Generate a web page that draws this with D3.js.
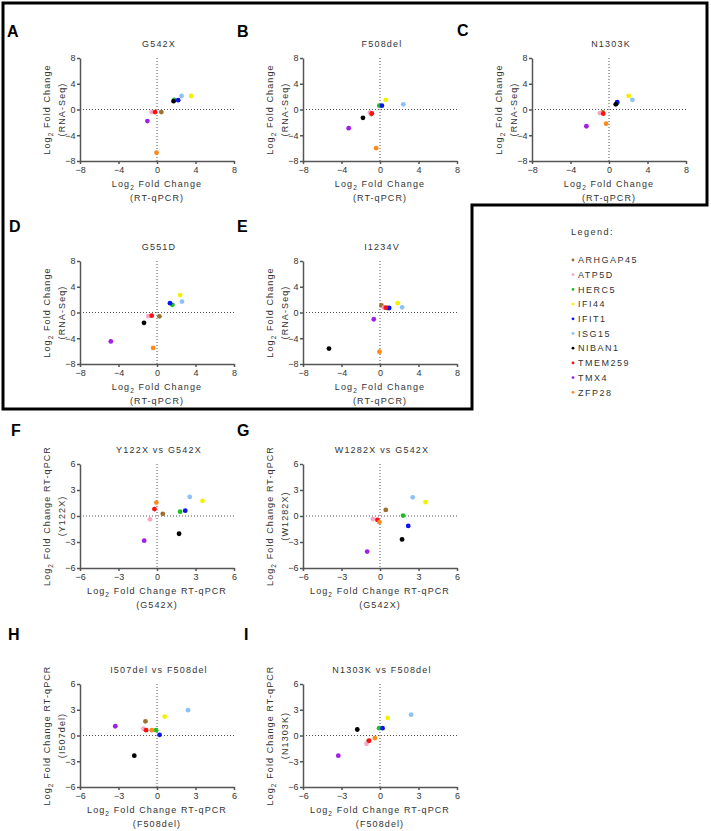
<!DOCTYPE html>
<html>
<head>
<meta charset="utf-8">
<script src="https://cdn.jsdelivr.net/npm/d3@7"></script>
<style>
  body { margin: 0; background: #fff; }
  text { font-family: "Liberation Sans", Arial, sans-serif; fill: #333; }
</style>
</head>
<body>
<svg id="fig" width="711" height="831"></svg>
<script>
// genes and their colours (legend order)
const genes = ["ARHGAP45", "ATP5D", "HERC5", "IFI44", "IFIT1", "ISG15", "NIBAN1", "TMEM259", "TMX4", "ZFP28"];
const geneColors = ["#a0702d", "#f7a6c8", "#1fbf1f", "#f2f200", "#0a14f0", "#8ec2f7", "#000000", "#ff1010", "#a020e8", "#ff8a1a"];

// log2 fold changes, one value per gene in the order above
const qpcrG542X   = [0.45, -0.55, 1.8, 3.55, 2.2, 2.55, 1.72, -0.2, -1.0, -0.05];
const rnaG542X    = [-0.4, -0.4, 1.5, 2.1, 1.45, 2.1, 1.3, -0.4, -1.8, -6.7];
const qpcrF508del = [-0.9, -1.05, -0.07, 0.6, 0.2, 2.42, -1.77, -0.85, -3.25, -0.4];
const rnaF508del  = [-0.7, -0.5, 0.6, 1.5, 0.6, 0.8, -1.3, -0.6, -2.9, -6.0];
const qpcrN1303K  = [-0.65, -0.95, 0.85, 2.05, 0.85, 2.43, 0.7, -0.6, -2.35, -0.3];
const rnaN1303K   = [-0.45, -0.55, 1.0, 2.1, 1.15, 1.5, 0.8, -0.65, -2.6, -2.2];
const qpcrG551D   = [0.25, -0.9, 1.6, 2.4, 1.35, 2.6, -1.35, -0.55, -4.8, -0.4];
const rnaG551D    = [-0.6, -0.55, 1.2, 2.7, 1.45, 1.7, -1.6, -0.5, -4.5, -5.5];
const qpcrI1234V  = [0.15, 0.4, 0.75, 1.85, 0.95, 2.3, -5.3, 0.6, -0.65, -0.05];
const rnaI1234V   = [1.1, 0.75, 0.7, 1.45, 0.7, 0.8, -5.6, 0.75, -1.05, -6.1];
const qpcrY122X   = [0.25, -0.38, 0.5, 1.75, 0.62, 2.2, -2.05, 0.8, -2.85, 1.55];
const qpcrW1282X  = [0.7, -0.35, 0.05, 1.6, -1.15, 2.15, -2.7, -0.45, -4.1, -0.7];
const qpcrI507del = [1.65, 0.8, 0.62, 2.2, 0.08, 2.95, -2.35, 0.62, 1.08, 0.62];

const ticks8 = [-8, -4, 0, 4, 8];
const ticks6 = [-6, -3, 0, 3, 6];

const svg = d3.select("#fig");

// outer frame around A-E
svg.append("path")
  .attr("d", "M3,3 H707 V205 H472 V409 H3 Z")
  .attr("fill", "none").attr("stroke", "#000").attr("stroke-width", 3);

const colX = [80, 303, 532];
const rows = [
  {top: 58, bottom: 161},
  {top: 261, bottom: 364},
  {top: 464, bottom: 568},
  {top: 684, bottom: 787}
];
const plotW = 154;

const panels = [
  {letter: "A", lx: 7, ly: 37, col: 0, row: 0, title: "G542X", xs: qpcrG542X, ys: rnaG542X, lim: 8, ticks: ticks8,
   xt: ["Log2 Fold Change", "(RT-qPCR)"], yt: ["Log2 Fold Change", "(RNA-Seq)"]},
  {letter: "B", lx: 237, ly: 37, col: 1, row: 0, title: "F508del", xs: qpcrF508del, ys: rnaF508del, lim: 8, ticks: ticks8,
   xt: ["Log2 Fold Change", "(RT-qPCR)"], yt: ["Log2 Fold Change", "(RNA-Seq)"]},
  {letter: "C", lx: 457, ly: 36, col: 2, row: 0, title: "N1303K", xs: qpcrN1303K, ys: rnaN1303K, lim: 8, ticks: ticks8,
   xt: ["Log2 Fold Change", "(RT-qPCR)"], yt: ["Log2 Fold Change", "(RNA-Seq)"]},
  {letter: "D", lx: 9, ly: 232, col: 0, row: 1, title: "G551D", xs: qpcrG551D, ys: rnaG551D, lim: 8, ticks: ticks8,
   xt: ["Log2 Fold Change", "(RT-qPCR)"], yt: ["Log2 Fold Change", "(RNA-Seq)"]},
  {letter: "E", lx: 237, ly: 232, col: 1, row: 1, title: "I1234V", xs: qpcrI1234V, ys: rnaI1234V, lim: 8, ticks: ticks8,
   xt: ["Log2 Fold Change", "(RT-qPCR)"], yt: ["Log2 Fold Change", "(RNA-Seq)"]},
  {letter: "F", lx: 11, ly: 436, col: 0, row: 2, title: "Y122X vs G542X", xs: qpcrG542X, ys: qpcrY122X, lim: 6, ticks: ticks6,
   xt: ["Log2 Fold Change RT-qPCR", "(G542X)"], yt: ["Log2 Fold Change RT-qPCR", "(Y122X)"]},
  {letter: "G", lx: 237, ly: 436, col: 1, row: 2, title: "W1282X vs G542X", xs: qpcrG542X, ys: qpcrW1282X, lim: 6, ticks: ticks6,
   xt: ["Log2 Fold Change RT-qPCR", "(G542X)"], yt: ["Log2 Fold Change RT-qPCR", "(W1282X)"]},
  {letter: "H", lx: 8, ly: 640, col: 0, row: 3, title: "I507del vs F508del", xs: qpcrF508del, ys: qpcrI507del, lim: 6, ticks: ticks6,
   xt: ["Log2 Fold Change RT-qPCR", "(F508del)"], yt: ["Log2 Fold Change RT-qPCR", "(I507del)"]},
  {letter: "I", lx: 244, ly: 640, col: 1, row: 3, title: "N1303K vs F508del", xs: qpcrF508del, ys: qpcrN1303K, lim: 6, ticks: ticks6,
   xt: ["Log2 Fold Change RT-qPCR", "(F508del)"], yt: ["Log2 Fold Change RT-qPCR", "(N1303K)"]}
];

// writes "Log2 ..." with a subscript 2
function labelText(sel, str) {
  if (str.startsWith("Log2")) {
    sel.append("tspan").text("Log");
    sel.append("tspan").attr("font-size", 6.5).attr("dy", 2.5).text("2");
    sel.append("tspan").attr("dy", -2.5).text(str.slice(4));
  } else {
    sel.text(str);
  }
}

panels.forEach(p => {
  const x0 = colX[p.col], r = rows[p.row];
  const x = d3.scaleLinear().domain([-p.lim, p.lim]).range([x0, x0 + plotW]);
  const y = d3.scaleLinear().domain([-p.lim, p.lim]).range([r.bottom, r.top]);
  const g = svg.append("g");

  // panel letter
  svg.append("text").attr("x", p.lx).attr("y", p.ly)
    .attr("font-size", 16).attr("font-weight", "bold").style("fill", "#000").text(p.letter);

  // title
  g.append("text").attr("x", x0 + plotW / 2 + 2).attr("y", r.top - 11)
    .attr("text-anchor", "middle").attr("font-size", 9).attr("letter-spacing", 1.2).text(p.title);

  // zero reference lines
  g.append("line").attr("x1", x(0)).attr("x2", x(0)).attr("y1", r.top).attr("y2", r.bottom)
    .attr("stroke", "#555").attr("stroke-dasharray", "1,2");
  g.append("line").attr("x1", x0).attr("x2", x0 + plotW).attr("y1", y(0)).attr("y2", y(0))
    .attr("stroke", "#555").attr("stroke-dasharray", "1,2");

  // axes
  const ax = g.append("g").attr("transform", `translate(0,${r.bottom})`)
    .call(d3.axisBottom(x).tickValues(p.ticks).tickSize(3).tickSizeOuter(0).tickPadding(3));
  const ay = g.append("g").attr("transform", `translate(${x0},0)`)
    .call(d3.axisLeft(y).tickValues(p.ticks).tickSize(3).tickSizeOuter(0).tickPadding(1.5));
  [ax, ay].forEach(a => {
    a.select(".domain").attr("stroke", "#555").attr("stroke-width", 1.5);
    a.selectAll(".tick line").attr("stroke", "#555").attr("stroke-width", 1.5);
    a.selectAll(".tick text").attr("font-size", 9).attr("font-family", "Liberation Sans, Arial").style("fill", "#333");
  });

  // axis titles
  p.xt.forEach((t, i) => {
    g.append("text").attr("x", x0 + plotW / 2).attr("y", r.bottom + 26 + i * 14)
      .attr("text-anchor", "middle").attr("font-size", 9).attr("letter-spacing", 1.1)
      .call(labelText, t);
  });
  const yc = (r.top + r.bottom) / 2;
  p.yt.forEach((t, i) => {
    g.append("text").attr("transform", `translate(${x0 - 30 + i * 14.5},${yc}) rotate(-90)`)
      .attr("text-anchor", "middle").attr("font-size", 9).attr("letter-spacing", 1.1)
      .call(labelText, t);
  });

  // points
  g.selectAll("circle").data(genes).join("circle")
    .attr("cx", (d, i) => x(p.xs[i]))
    .attr("cy", (d, i) => y(p.ys[i]))
    .attr("r", 2.4)
    .attr("fill", (d, i) => geneColors[i]);
});

// legend
const leg = svg.append("g");
leg.append("text").attr("x", 571).attr("y", 235).attr("font-size", 9).attr("letter-spacing", 1.5).text("Legend:");
const li = leg.selectAll("g.item").data(genes).join("g").attr("class", "item")
  .attr("transform", (d, i) => `translate(573,${260 + i * 14.7})`);
li.append("circle").attr("r", 1.4).attr("fill", (d, i) => geneColors[i]);
li.append("text").attr("x", 5).attr("y", 3.2).attr("font-size", 9).attr("letter-spacing", 1.5).text(d => d);
</script>
</body>
</html>
